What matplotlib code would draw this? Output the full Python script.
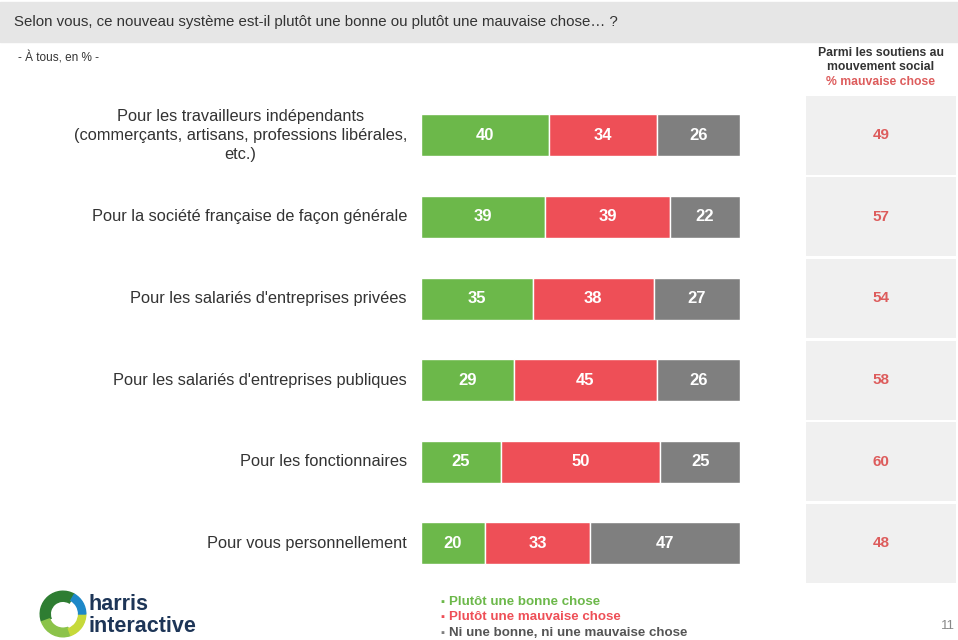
import matplotlib.pyplot as plt
from matplotlib.patches import Wedge, Rectangle

plt.rcParams['font.family'] = ['Liberation Sans', 'DejaVu Sans']

# ---------------- DATA ----------------
categories = [
    "Pour les travailleurs indépendants\n(commerçants, artisans, professions libérales,\netc.)",
    "Pour la société française de façon générale",
    "Pour les salariés d'entreprises privées",
    "Pour les salariés d'entreprises publiques",
    "Pour les fonctionnaires",
    "Pour vous personnellement",
]
bonne = [40, 39, 35, 29, 25, 20]
mauvaise = [34, 39, 38, 45, 50, 33]
ni_ni = [26, 22, 27, 26, 25, 47]
soutiens_mauvaise = [49, 57, 54, 58, 60, 48]

series_names = ["Plutôt une bonne chose", "Plutôt une mauvaise chose",
                "Ni une bonne, ni une mauvaise chose"]

GREEN = "#6cb84a"
RED = "#ee4f57"
GREY = "#7f7f7f"
VAL_RED = "#dd5c5c"

W, H = 958, 640
fig = plt.figure(figsize=(W / 100, H / 100), dpi=100)

def fx(px):
    return px / W

def fy(py):
    return 1 - py / H

# ---------------- HEADER ----------------
fig.patches.append(Rectangle((0, fy(42)), 1, fy(2) - fy(42), transform=fig.transFigure,
                             color="#e6e6e6", zorder=0))
fig.text(fx(14), fy(22), "Selon vous, ce nouveau système est-il plutôt une bonne ou plutôt une mauvaise chose… ?",
         fontsize=10.8, color="#333333", va="center", ha="left")
fig.text(fx(18), fy(58), "- À tous, en % -", fontsize=8.5, color="#333333", va="center")
fig.text(fx(881), fy(60), "Parmi les soutiens au\nmouvement social", fontsize=8.8, fontweight="bold",
         color="#333333", ha="center", va="center", linespacing=1.25)
fig.text(fx(881), fy(82), "% mauvaise chose", fontsize=8.8, fontweight="bold",
         color=VAL_RED, ha="center", va="center")

# ---------------- BARS ----------------
top, row_h = 94.5, 81.6
n = len(categories)
ax = fig.add_axes([fx(421), fy(top + n * row_h), fx(740) - fx(421), (n * row_h) / H])
y = list(range(n))
bh = 42 / row_h
left2 = [b for b in bonne]
left3 = [b + m for b, m in zip(bonne, mauvaise)]
ax.barh(y, bonne, height=bh, color=GREEN, edgecolor="white", linewidth=1)
ax.barh(y, mauvaise, left=left2, height=bh, color=RED, edgecolor="white", linewidth=1)
ax.barh(y, ni_ni, left=left3, height=bh, color=GREY, edgecolor="white", linewidth=1)
ax.set_xlim(0, 100)
ax.set_ylim(n - 0.5, -0.5)
ax.axis("off")

for i in range(n):
    ax.text(bonne[i] / 2, i, str(bonne[i]), color="white", fontsize=12, fontweight="bold",
            ha="center", va="center")
    ax.text(left2[i] + mauvaise[i] / 2, i, str(mauvaise[i]), color="white", fontsize=12,
            fontweight="bold", ha="center", va="center")
    ax.text(left3[i] + ni_ni[i] / 2, i, str(ni_ni[i]), color="white", fontsize=12,
            fontweight="bold", ha="center", va="center")
    ax.text(-4.4, i, categories[i], ha="right", va="center", fontsize=11.8, color="#333333",
            linespacing=1.35, multialignment="center", clip_on=False)

# ---------------- RIGHT PANEL ----------------
ax2 = fig.add_axes([fx(806), fy(top + n * row_h), fx(956) - fx(806), (n * row_h) / H])
ax2.barh(y, [1] * n, height=0.97, color="#f0f0f0")
ax2.set_xlim(0, 1)
ax2.set_ylim(n - 0.5, -0.5)
ax2.axis("off")
for i in range(n):
    ax2.text(0.5, i, str(soutiens_mauvaise[i]), color=VAL_RED, fontsize=11,
             fontweight="bold", ha="center", va="center")

# ---------------- LEGEND ----------------
leg_colors = [GREEN, RED, "#555555"]
for k, (name, c) in enumerate(zip(series_names, leg_colors)):
    yy = fy(602 + k * 15.5)
    fig.text(fx(440), yy, "\u25aa", color=c if k < 2 else GREY, fontsize=8, va="center")
    fig.text(fx(449), yy, name, color=c, fontsize=9.6, fontweight="bold", va="center")

fig.text(fx(955), fy(626), "11", fontsize=9.5, color="#888888", ha="right", va="center")

# ---------------- LOGO ----------------
lax = fig.add_axes([fx(38), fy(638), fx(88) - fx(38), (638 - 590) / H])
lax.set_xlim(-1, 1)
lax.set_ylim(-1, 1)
lax.set_aspect("equal")
lax.axis("off")
lax.add_patch(Wedge((0, 0), 0.95, 60, 200, width=0.42, color="#2e7d32"))
lax.add_patch(Wedge((0, 0), 0.95, 200, 290, width=0.36, color="#8bc34a"))
lax.add_patch(Wedge((0, 0), 0.95, 290, 360, width=0.3, color="#c6d93a"))
lax.add_patch(Wedge((0, 0), 0.95, 0, 60, width=0.3, color="#1e88c8"))
fig.text(fx(88), fy(604), "harris", fontsize=15.5, fontweight="bold", color="#1d3557", va="center")
fig.text(fx(88), fy(626), "interactive", fontsize=15.5, fontweight="bold", color="#1d3557", va="center")

fig.savefig("out.png", dpi=100, facecolor="white")
